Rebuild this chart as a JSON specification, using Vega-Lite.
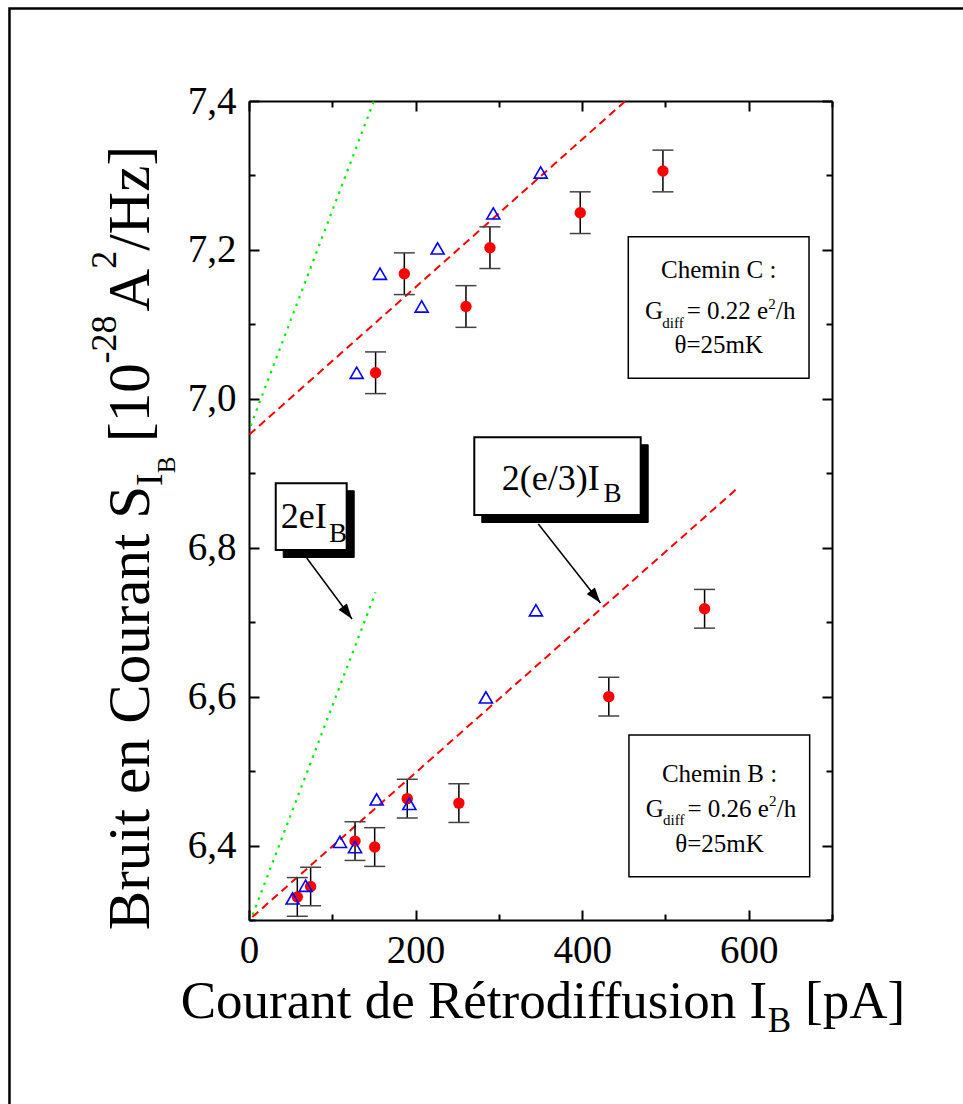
{
  "$schema": "https://vega.github.io/schema/vega-lite/v6.json",
  "width": 583,
  "height": 819,
  "autosize": {"type": "none"},
  "padding": {"left": 249, "top": 101, "right": 131, "bottom": 184},
  "background": "white",
  "config": {"view": {"stroke": null}},
  "datasets": {
    "frame": [{"x1": -287.6, "x2": 1000, "y1": 7.5242, "y2": 6.0}],
    "chemin": [
      {"x": 152, "y": 7.035, "lo": 7.007, "hi": 7.063},
      {"x": 186.5, "y": 7.168, "lo": 7.140, "hi": 7.196},
      {"x": 260.5, "y": 7.124, "lo": 7.096, "hi": 7.152},
      {"x": 289.3, "y": 7.203, "lo": 7.175, "hi": 7.231},
      {"x": 397.7, "y": 7.250, "lo": 7.222, "hi": 7.278},
      {"x": 497, "y": 7.306, "lo": 7.278, "hi": 7.334},
      {"x": 58, "y": 6.331, "lo": 6.305, "hi": 6.357},
      {"x": 74, "y": 6.345, "lo": 6.319, "hi": 6.371},
      {"x": 127.3, "y": 6.406, "lo": 6.380, "hi": 6.432},
      {"x": 150.9, "y": 6.398, "lo": 6.372, "hi": 6.424},
      {"x": 190, "y": 6.463, "lo": 6.437, "hi": 6.489},
      {"x": 252, "y": 6.457, "lo": 6.431, "hi": 6.483},
      {"x": 432, "y": 6.600, "lo": 6.574, "hi": 6.626},
      {"x": 547, "y": 6.718, "lo": 6.692, "hi": 6.744}
    ],
    "tri": [
      {"x": 129.3, "y": 7.035}, {"x": 157.3, "y": 7.168}, {"x": 207.3, "y": 7.124},
      {"x": 226.5, "y": 7.202}, {"x": 293.3, "y": 7.249}, {"x": 350.2, "y": 7.304},
      {"x": 52.4, "y": 6.329}, {"x": 68, "y": 6.346}, {"x": 109.2, "y": 6.405},
      {"x": 127.3, "y": 6.398}, {"x": 153.3, "y": 6.462}, {"x": 192.5, "y": 6.456},
      {"x": 284.5, "y": 6.599}, {"x": 344.5, "y": 6.716}
    ],
    "dash": [
      {"s": "C", "x": 0.5, "y": 6.952}, {"s": "C", "x": 452, "y": 7.4},
      {"s": "B", "x": 4, "y": 6.304}, {"s": "B", "x": 586, "y": 6.8795}
    ],
    "dotl": [
      {"s": "C", "x": 2, "y": 6.964}, {"s": "C", "x": 150, "y": 7.4},
      {"s": "B", "x": 4.4, "y": 6.307}, {"s": "B", "x": 152, "y": 6.74}
    ],
    "chbox": [
      {"x1": 455.4, "x2": 672.4, "y1": 7.2177, "y2": 7.0275},
      {"x1": 456.2, "x2": 673.2, "y1": 6.5484, "y2": 6.3581}
    ],
    "callbox": [
      {"x1": 32.1, "x2": 117.3, "y1": 6.8865, "y2": 6.7969},
      {"x1": 270.5, "x2": 470.3, "y1": 6.9483, "y2": 6.8439}
    ],
    "shadow": [
      {"x1": 41.1, "x2": 126.3, "y1": 6.8765, "y2": 6.7869},
      {"x1": 279.5, "x2": 479.3, "y1": 6.9383, "y2": 6.8339}
    ],
    "arrows": [
      {"x": 69.3, "y": 6.7862, "x2": 123.7, "y2": 6.7042, "a": -36.6},
      {"x": 347.4, "y": 6.8318, "x2": 422.0, "y2": 6.7257, "a": -38.2}
    ],
    "t_big": [{"t": "2eI", "x": 38.1, "y": 6.8261}, {"t": "2(e/3)I", "x": 303.5, "y": 6.8775}],
    "t_bigsub": [{"t": "B", "x": 96.0, "y": 6.8081}, {"t": "B", "x": 425.5, "y": 6.8618}],
    "t_center": [
      {"t": "Chemin C :", "x": 564, "y": 7.1619}, {"t": "θ=25mK", "x": 564, "y": 7.0615},
      {"t": "Chemin B :", "x": 565, "y": 6.4857}, {"t": "θ=25mK", "x": 565, "y": 6.3912}
    ],
    "t_left": [
      {"t": "G", "x": 475.5, "y": 7.1068}, {"t": "= 0.22 e", "x": 525.5, "y": 7.1068}, {"t": "/h", "x": 632.8, "y": 7.1068},
      {"t": "G", "x": 476.5, "y": 6.4388}, {"t": "= 0.26 e", "x": 526.5, "y": 6.4388}, {"t": "/h", "x": 633.8, "y": 6.4388}
    ],
    "t_small": [
      {"t": "diff", "x": 496.2, "y": 7.0955}, {"t": "2", "x": 623.5, "y": 7.1206},
      {"t": "diff", "x": 497.2, "y": 6.4275}, {"t": "2", "x": 624.5, "y": 6.4526}
    ],
    "xt_r": [{"t": "Courant de Rétrodiffusion I", "x": 622.0, "y": 6.1683}],
    "xt_sub": [{"t": "B", "x": 623.0, "y": 6.1502}],
    "xt_l": [{"t": "[pA]", "x": 667.6, "y": 6.1683}],
    "yt_r": [{"t": "Bruit en Courant S", "x": -120.1, "y": 6.8829}],
    "yt_sub": [{"t": "I", "x": -120.1, "y": 6.8829}],
    "yt_subsub": [{"t": "B", "x": -120.1, "y": 6.8999}],
    "yt_l": [{"t": "[10", "x": -120.1, "y": 6.942}, {"t": "A", "x": -120.1, "y": 7.1174}, {"t": "/Hz]", "x": -120.1, "y": 7.1988}],
    "yt_sup": [{"t": "-28", "x": -120.1, "y": 7.0475}, {"t": "2", "x": -120.1, "y": 7.1746}]
  },
  "resolve": {"axis": {"x": "independent", "y": "independent"}},
  "layer": [
    {
      "data": {"name": "frame"},
      "mark": {"type": "rect", "filled": false, "color": "black", "strokeWidth": 2.5},
      "encoding": {
        "x": {"field": "x1", "type": "quantitative", "scale": {"domain": [0, 700], "nice": false, "zero": false}, "axis": null},
        "x2": {"field": "x2"},
        "y": {"field": "y1", "type": "quantitative", "scale": {"domain": [6.3, 7.4], "nice": false, "zero": false}, "axis": null},
        "y2": {"field": "y2"}
      }
    },
    {
      "data": {"name": "dotl"},
      "mark": {"type": "line", "color": "#00ee00", "strokeWidth": 2.2, "strokeDash": [2.5, 5.5]},
      "encoding": {
        "x": {"field": "x", "type": "quantitative", "scale": {"domain": [0, 700], "nice": false, "zero": false}, "axis": null},
        "y": {"field": "y", "type": "quantitative", "scale": {"domain": [6.3, 7.4], "nice": false, "zero": false}, "axis": null},
        "detail": {"field": "s"}
      }
    },
    {
      "data": {"name": "dash"},
      "mark": {"type": "line", "color": "#ff0000", "strokeWidth": 2, "strokeDash": [8, 5]},
      "encoding": {
        "x": {"field": "x", "type": "quantitative", "scale": {"domain": [0, 700], "nice": false, "zero": false}, "axis": null},
        "y": {"field": "y", "type": "quantitative", "scale": {"domain": [6.3, 7.4], "nice": false, "zero": false}, "axis": null},
        "detail": {"field": "s"}
      }
    },
    {
      "data": {"name": "chemin"},
      "mark": {"type": "rule", "color": "black", "strokeWidth": 1.5},
      "encoding": {
        "x": {"field": "x", "type": "quantitative", "scale": {"domain": [0, 700], "nice": false, "zero": false}, "axis": null},
        "y": {"field": "lo", "type": "quantitative", "scale": {"domain": [6.3, 7.4], "nice": false, "zero": false}, "axis": null},
        "y2": {"field": "hi"}
      }
    },
    {
      "data": {"name": "chemin"},
      "mark": {"type": "tick", "orient": "horizontal", "size": 21, "thickness": 1.5, "color": "#444444", "opacity": 1},
      "encoding": {
        "x": {"field": "x", "type": "quantitative", "scale": {"domain": [0, 700], "nice": false, "zero": false}, "axis": null},
        "y": {"field": "lo", "type": "quantitative", "scale": {"domain": [6.3, 7.4], "nice": false, "zero": false}, "axis": null}
      }
    },
    {
      "data": {"name": "chemin"},
      "mark": {"type": "tick", "orient": "horizontal", "size": 21, "thickness": 1.5, "color": "#444444", "opacity": 1},
      "encoding": {
        "x": {"field": "x", "type": "quantitative", "scale": {"domain": [0, 700], "nice": false, "zero": false}, "axis": null},
        "y": {"field": "hi", "type": "quantitative", "scale": {"domain": [6.3, 7.4], "nice": false, "zero": false}, "axis": null}
      }
    },
    {
      "data": {"name": "chemin"},
      "mark": {"type": "circle", "color": "#ff0000", "size": 130, "opacity": 1},
      "encoding": {
        "x": {"field": "x", "type": "quantitative", "scale": {"domain": [0, 700], "nice": false, "zero": false},
          "axis": {"orient": "bottom", "values": [0, 100, 200, 300, 400, 500, 600, 700],
            "labelExpr": "datum.value % 200 === 0 && datum.value < 700 ? datum.label : ''",
            "tickSize": {"condition": {"test": "datum.value % 200 === 0", "value": -10}, "value": -6},
            "tickWidth": 2, "tickColor": "black", "domainColor": "black", "domainWidth": 2,
            "labelFont": "Liberation Serif", "labelFontSize": 39, "labelColor": "black", "labelPadding": 21,
            "grid": false, "title": null, "labelOverlap": false, "labelFlush": false, "labelBound": false, "format": "d"}},
        "y": {"field": "y", "type": "quantitative", "scale": {"domain": [6.3, 7.4], "nice": false, "zero": false},
          "axis": {"orient": "left", "values": [6.3, 6.4, 6.5, 6.6, 6.7, 6.8, 6.9, 7.0, 7.1, 7.2, 7.3, 7.4],
            "labelExpr": "round(datum.value*10) % 2 === 0 ? replace(format(datum.value, '.1f'), '.', ',') : ''",
            "tickSize": {"condition": {"test": "round(datum.value*10) % 2 === 0", "value": -10}, "value": -6},
            "tickWidth": 2, "tickColor": "black", "domainColor": "black", "domainWidth": 2,
            "labelFont": "Liberation Serif", "labelFontSize": 39, "labelColor": "black", "labelPadding": 23,
            "grid": false, "title": null, "labelOverlap": false, "labelFlush": false, "labelBound": false}}
      }
    },
    {
      "data": {"name": "tri"},
      "mark": {"type": "point", "shape": "triangle-up", "color": "#0000ff", "size": 170, "strokeWidth": 1.6, "filled": false, "opacity": 1},
      "encoding": {
        "x": {"field": "x", "type": "quantitative", "scale": {"domain": [0, 700], "nice": false, "zero": false},
          "axis": {"orient": "top", "values": [0, 100, 200, 300, 400, 500, 600, 700], "labels": false,
            "tickSize": {"condition": {"test": "datum.value % 200 === 0", "value": -10}, "value": -6},
            "tickWidth": 2, "tickColor": "black", "domainColor": "black", "domainWidth": 2, "grid": false, "title": null}},
        "y": {"field": "y", "type": "quantitative", "scale": {"domain": [6.3, 7.4], "nice": false, "zero": false},
          "axis": {"orient": "right", "values": [6.3, 6.4, 6.5, 6.6, 6.7, 6.8, 6.9, 7.0, 7.1, 7.2, 7.3, 7.4], "labels": false,
            "tickSize": {"condition": {"test": "round(datum.value*10) % 2 === 0", "value": -10}, "value": -6},
            "tickWidth": 2, "tickColor": "black", "domainColor": "black", "domainWidth": 2, "grid": false, "title": null}}
      }
    },
    {
      "data": {"name": "chbox"},
      "mark": {"type": "rect", "fill": "white", "stroke": "black", "strokeWidth": 1.5},
      "encoding": {
        "x": {"field": "x1", "type": "quantitative", "scale": {"domain": [0, 700], "nice": false, "zero": false}, "axis": null},
        "x2": {"field": "x2"},
        "y": {"field": "y1", "type": "quantitative", "scale": {"domain": [6.3, 7.4], "nice": false, "zero": false}, "axis": null},
        "y2": {"field": "y2"}
      }
    },
    {
      "data": {"name": "shadow"},
      "mark": {"type": "rect", "fill": "black", "stroke": "black", "strokeWidth": 1},
      "encoding": {
        "x": {"field": "x1", "type": "quantitative", "scale": {"domain": [0, 700], "nice": false, "zero": false}, "axis": null},
        "x2": {"field": "x2"},
        "y": {"field": "y1", "type": "quantitative", "scale": {"domain": [6.3, 7.4], "nice": false, "zero": false}, "axis": null},
        "y2": {"field": "y2"}
      }
    },
    {
      "data": {"name": "callbox"},
      "mark": {"type": "rect", "fill": "white", "stroke": "black", "strokeWidth": 2},
      "encoding": {
        "x": {"field": "x1", "type": "quantitative", "scale": {"domain": [0, 700], "nice": false, "zero": false}, "axis": null},
        "x2": {"field": "x2"},
        "y": {"field": "y1", "type": "quantitative", "scale": {"domain": [6.3, 7.4], "nice": false, "zero": false}, "axis": null},
        "y2": {"field": "y2"}
      }
    },
    {
      "data": {"name": "arrows"},
      "mark": {"type": "rule", "color": "black", "strokeWidth": 1.5},
      "encoding": {
        "x": {"field": "x", "type": "quantitative", "scale": {"domain": [0, 700], "nice": false, "zero": false}, "axis": null},
        "x2": {"field": "x2"},
        "y": {"field": "y", "type": "quantitative", "scale": {"domain": [6.3, 7.4], "nice": false, "zero": false}, "axis": null},
        "y2": {"field": "y2"}
      }
    },
    {
      "data": {"name": "arrows"},
      "mark": {"type": "point", "shape": "M0,0L-0.6,-1.8L0.6,-1.8Z", "filled": true, "color": "black", "size": 300, "opacity": 1, "strokeWidth": 0},
      "encoding": {
        "x": {"field": "x2", "type": "quantitative", "scale": {"domain": [0, 700], "nice": false, "zero": false}, "axis": null},
        "y": {"field": "y2", "type": "quantitative", "scale": {"domain": [6.3, 7.4], "nice": false, "zero": false}, "axis": null},
        "angle": {"field": "a", "type": "quantitative", "scale": null}
      }
    },
    {
      "data": {"name": "t_big"},
      "mark": {"type": "text", "font": "Liberation Serif", "fontSize": 36, "align": "left", "baseline": "alphabetic", "color": "black"},
      "encoding": {
        "x": {"field": "x", "type": "quantitative", "scale": {"domain": [0, 700], "nice": false, "zero": false}, "axis": null},
        "y": {"field": "y", "type": "quantitative", "scale": {"domain": [6.3, 7.4], "nice": false, "zero": false}, "axis": null},
        "text": {"field": "t"}
      }
    },
    {
      "data": {"name": "t_bigsub"},
      "mark": {"type": "text", "font": "Liberation Serif", "fontSize": 27, "align": "left", "baseline": "alphabetic", "color": "black"},
      "encoding": {
        "x": {"field": "x", "type": "quantitative", "scale": {"domain": [0, 700], "nice": false, "zero": false}, "axis": null},
        "y": {"field": "y", "type": "quantitative", "scale": {"domain": [6.3, 7.4], "nice": false, "zero": false}, "axis": null},
        "text": {"field": "t"}
      }
    },
    {
      "data": {"name": "t_center"},
      "mark": {"type": "text", "font": "Liberation Serif", "fontSize": 25, "align": "center", "baseline": "alphabetic", "color": "black"},
      "encoding": {
        "x": {"field": "x", "type": "quantitative", "scale": {"domain": [0, 700], "nice": false, "zero": false}, "axis": null},
        "y": {"field": "y", "type": "quantitative", "scale": {"domain": [6.3, 7.4], "nice": false, "zero": false}, "axis": null},
        "text": {"field": "t"}
      }
    },
    {
      "data": {"name": "t_left"},
      "mark": {"type": "text", "font": "Liberation Serif", "fontSize": 25, "align": "left", "baseline": "alphabetic", "color": "black"},
      "encoding": {
        "x": {"field": "x", "type": "quantitative", "scale": {"domain": [0, 700], "nice": false, "zero": false}, "axis": null},
        "y": {"field": "y", "type": "quantitative", "scale": {"domain": [6.3, 7.4], "nice": false, "zero": false}, "axis": null},
        "text": {"field": "t"}
      }
    },
    {
      "data": {"name": "t_small"},
      "mark": {"type": "text", "font": "Liberation Serif", "fontSize": 15, "align": "left", "baseline": "alphabetic", "color": "black"},
      "encoding": {
        "x": {"field": "x", "type": "quantitative", "scale": {"domain": [0, 700], "nice": false, "zero": false}, "axis": null},
        "y": {"field": "y", "type": "quantitative", "scale": {"domain": [6.3, 7.4], "nice": false, "zero": false}, "axis": null},
        "text": {"field": "t"}
      }
    },
    {
      "data": {"name": "xt_r"},
      "mark": {"type": "text", "font": "Liberation Serif", "fontSize": 53, "align": "right", "baseline": "alphabetic", "color": "black"},
      "encoding": {
        "x": {"field": "x", "type": "quantitative", "scale": {"domain": [0, 700], "nice": false, "zero": false}, "axis": null},
        "y": {"field": "y", "type": "quantitative", "scale": {"domain": [6.3, 7.4], "nice": false, "zero": false}, "axis": null},
        "text": {"field": "t"}
      }
    },
    {
      "data": {"name": "xt_sub"},
      "mark": {"type": "text", "font": "Liberation Serif", "fontSize": 35, "align": "left", "baseline": "alphabetic", "color": "black"},
      "encoding": {
        "x": {"field": "x", "type": "quantitative", "scale": {"domain": [0, 700], "nice": false, "zero": false}, "axis": null},
        "y": {"field": "y", "type": "quantitative", "scale": {"domain": [6.3, 7.4], "nice": false, "zero": false}, "axis": null},
        "text": {"field": "t"}
      }
    },
    {
      "data": {"name": "xt_l"},
      "mark": {"type": "text", "font": "Liberation Serif", "fontSize": 53, "align": "left", "baseline": "alphabetic", "color": "black"},
      "encoding": {
        "x": {"field": "x", "type": "quantitative", "scale": {"domain": [0, 700], "nice": false, "zero": false}, "axis": null},
        "y": {"field": "y", "type": "quantitative", "scale": {"domain": [6.3, 7.4], "nice": false, "zero": false}, "axis": null},
        "text": {"field": "t"}
      }
    },
    {
      "data": {"name": "yt_r"},
      "mark": {"type": "text", "font": "Liberation Serif", "fontSize": 59, "align": "right", "baseline": "alphabetic", "angle": 270, "color": "black"},
      "encoding": {
        "x": {"field": "x", "type": "quantitative", "scale": {"domain": [0, 700], "nice": false, "zero": false}, "axis": null},
        "y": {"field": "y", "type": "quantitative", "scale": {"domain": [6.3, 7.4], "nice": false, "zero": false}, "axis": null},
        "text": {"field": "t"}
      }
    },
    {
      "data": {"name": "yt_sub"},
      "mark": {"type": "text", "font": "Liberation Serif", "fontSize": 38, "align": "left", "baseline": "alphabetic", "angle": 270, "dy": 13, "color": "black"},
      "encoding": {
        "x": {"field": "x", "type": "quantitative", "scale": {"domain": [0, 700], "nice": false, "zero": false}, "axis": null},
        "y": {"field": "y", "type": "quantitative", "scale": {"domain": [6.3, 7.4], "nice": false, "zero": false}, "axis": null},
        "text": {"field": "t"}
      }
    },
    {
      "data": {"name": "yt_subsub"},
      "mark": {"type": "text", "font": "Liberation Serif", "fontSize": 25, "align": "left", "baseline": "alphabetic", "angle": 270, "dy": 26, "color": "black"},
      "encoding": {
        "x": {"field": "x", "type": "quantitative", "scale": {"domain": [0, 700], "nice": false, "zero": false}, "axis": null},
        "y": {"field": "y", "type": "quantitative", "scale": {"domain": [6.3, 7.4], "nice": false, "zero": false}, "axis": null},
        "text": {"field": "t"}
      }
    },
    {
      "data": {"name": "yt_l"},
      "mark": {"type": "text", "font": "Liberation Serif", "fontSize": 59, "align": "left", "baseline": "alphabetic", "angle": 270, "color": "black"},
      "encoding": {
        "x": {"field": "x", "type": "quantitative", "scale": {"domain": [0, 700], "nice": false, "zero": false}, "axis": null},
        "y": {"field": "y", "type": "quantitative", "scale": {"domain": [6.3, 7.4], "nice": false, "zero": false}, "axis": null},
        "text": {"field": "t"}
      }
    },
    {
      "data": {"name": "yt_sup"},
      "mark": {"type": "text", "font": "Liberation Serif", "fontSize": 36, "align": "left", "baseline": "alphabetic", "angle": 270, "dy": -33, "color": "black"},
      "encoding": {
        "x": {"field": "x", "type": "quantitative", "scale": {"domain": [0, 700], "nice": false, "zero": false}, "axis": null},
        "y": {"field": "y", "type": "quantitative", "scale": {"domain": [6.3, 7.4], "nice": false, "zero": false}, "axis": null},
        "text": {"field": "t"}
      }
    }
  ]
}
